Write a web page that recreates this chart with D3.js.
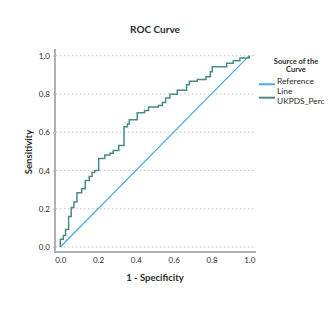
<!DOCTYPE html>
<html>
<head>
<meta charset="utf-8">
<script src="https://cdn.jsdelivr.net/npm/d3@7"></script>
<style>
  html, body { margin: 0; padding: 0; background: #fff; }
  svg { display: block; font-family: "Lato", "Noto Sans", sans-serif; }
</style>
</head>
<body>
<svg id="chart" width="335" height="335"></svg>
<script>
// ROC curve corner points (1 - specificity, sensitivity)
const fpr = [0, 0, 0.016, 0.028, 0.044, 0.058, 0.072, 0.088, 0.113, 0.132, 0.153, 0.168, 0.182,
  0.203, 0.235, 0.263, 0.28, 0.309, 0.337, 0.355, 0.365, 0.407, 0.446, 0.467, 0.519, 0.54,
  0.557, 0.58, 0.619, 0.668, 0.683, 0.725, 0.771, 0.794, 0.804, 0.88, 0.915, 0.95, 1.0];
const tpr = [0, 0.04, 0.06, 0.092, 0.16, 0.207, 0.235, 0.284, 0.305, 0.348, 0.368, 0.39, 0.40,
  0.463, 0.481, 0.49, 0.505, 0.53, 0.629, 0.643, 0.665, 0.702, 0.714, 0.732, 0.74, 0.756,
  0.779, 0.798, 0.819, 0.848, 0.866, 0.876, 0.89, 0.916, 0.942, 0.96, 0.974, 0.988, 1.0];
const refLine = [[0, 0], [1, 1]];
const ticks = [0, 0.2, 0.4, 0.6, 0.8, 1.0];
const legendItems = [
  { lines: ["Reference", "Line"], color: "#4aa9ea" },
  { lines: ["UKPDS_Perc"], color: "#4a8a86" }
];

const svg = d3.select("#chart");
const x = d3.scaleLinear().domain([0, 1]).range([60.3, 249.3]);
const y = d3.scaleLinear().domain([0, 1]).range([247, 55.7]);

const textColor = "#2b2b2b";

// title
svg.append("text").attr("x", 155).attr("y", 32.5).attr("text-anchor", "middle")
  .attr("font-size", 10).attr("font-weight", "bold").attr("fill", textColor).text("ROC Curve");

// gridlines
svg.append("g").selectAll("line").data(ticks).join("line")
  .attr("x1", 56).attr("x2", 256)
  .attr("y1", d => y(d)).attr("y2", d => y(d))
  .attr("stroke", "#c4c4c4").attr("stroke-width", 1).attr("stroke-dasharray", "1.5,2.5");

// axes
const yAxis = svg.append("g").attr("transform", "translate(55,0)")
  .call(d3.axisLeft(y).tickValues(ticks).tickFormat(d3.format(".1f")).tickSize(2).tickPadding(3));
const xAxis = svg.append("g").attr("transform", "translate(0,252)")
  .call(d3.axisBottom(x).tickValues(ticks).tickFormat(d3.format(".1f")).tickSize(0).tickPadding(5));
[yAxis, xAxis].forEach(a => {
  a.selectAll("text").attr("font-size", 8).attr("fill", textColor).attr("font-family", "Lato, sans-serif");
  a.selectAll(".tick line").attr("stroke", "#b8b8b8");
});
yAxis.select(".domain").attr("d", `M0,${49}V252`).attr("stroke", "#b0b0b0").attr("stroke-width", 2);
xAxis.select(".domain").attr("d", `M54,0H256`).attr("stroke", "#b0b0b0").attr("stroke-width", 2);

// axis titles
svg.append("text").attr("x", 155).attr("y", 281).attr("text-anchor", "middle")
  .attr("font-size", 9.5).attr("font-weight", "bold").attr("fill", textColor).text("1 - Specificity");
svg.append("text").attr("transform", "translate(32,152) rotate(-90)").attr("text-anchor", "middle")
  .attr("font-size", 9.5).attr("font-weight", "bold").attr("fill", textColor).text("Sensitivity");

// reference diagonal
svg.append("path").datum(refLine)
  .attr("d", d3.line().x(d => x(d[0])).y(d => y(d[1])))
  .attr("fill", "none").attr("stroke", legendItems[0].color).attr("stroke-width", 1.2);

// ROC step curve
const pts = fpr.map((f, i) => [f, tpr[i]]);
svg.append("path").datum(pts)
  .attr("d", d3.line().x(d => x(d[0])).y(d => y(d[1])).curve(d3.curveStepAfter))
  .attr("fill", "none").attr("stroke", legendItems[1].color).attr("stroke-width", 1.5);

// legend
const lg = svg.append("g");
lg.append("text").attr("x", 296).attr("y", 64).attr("text-anchor", "middle")
  .attr("font-size", 7.5).attr("font-weight", "bold").attr("fill", textColor).text("Source of the");
lg.append("text").attr("x", 296).attr("y", 72).attr("text-anchor", "middle")
  .attr("font-size", 7.5).attr("font-weight", "bold").attr("fill", textColor).text("Curve");
const swatchY = [84.3, 97.7];
const textY = [[84, 93.6], [104]];
legendItems.forEach((item, i) => {
  lg.append("line").attr("x1", 259).attr("x2", 275).attr("y1", swatchY[i]).attr("y2", swatchY[i])
    .attr("stroke", item.color).attr("stroke-width", 2);
  item.lines.forEach((t, j) => {
    lg.append("text").attr("x", 277).attr("y", textY[i][j]).attr("font-size", 8.4)
      .attr("fill", textColor).text(t);
  });
});
</script>
</body>
</html>
